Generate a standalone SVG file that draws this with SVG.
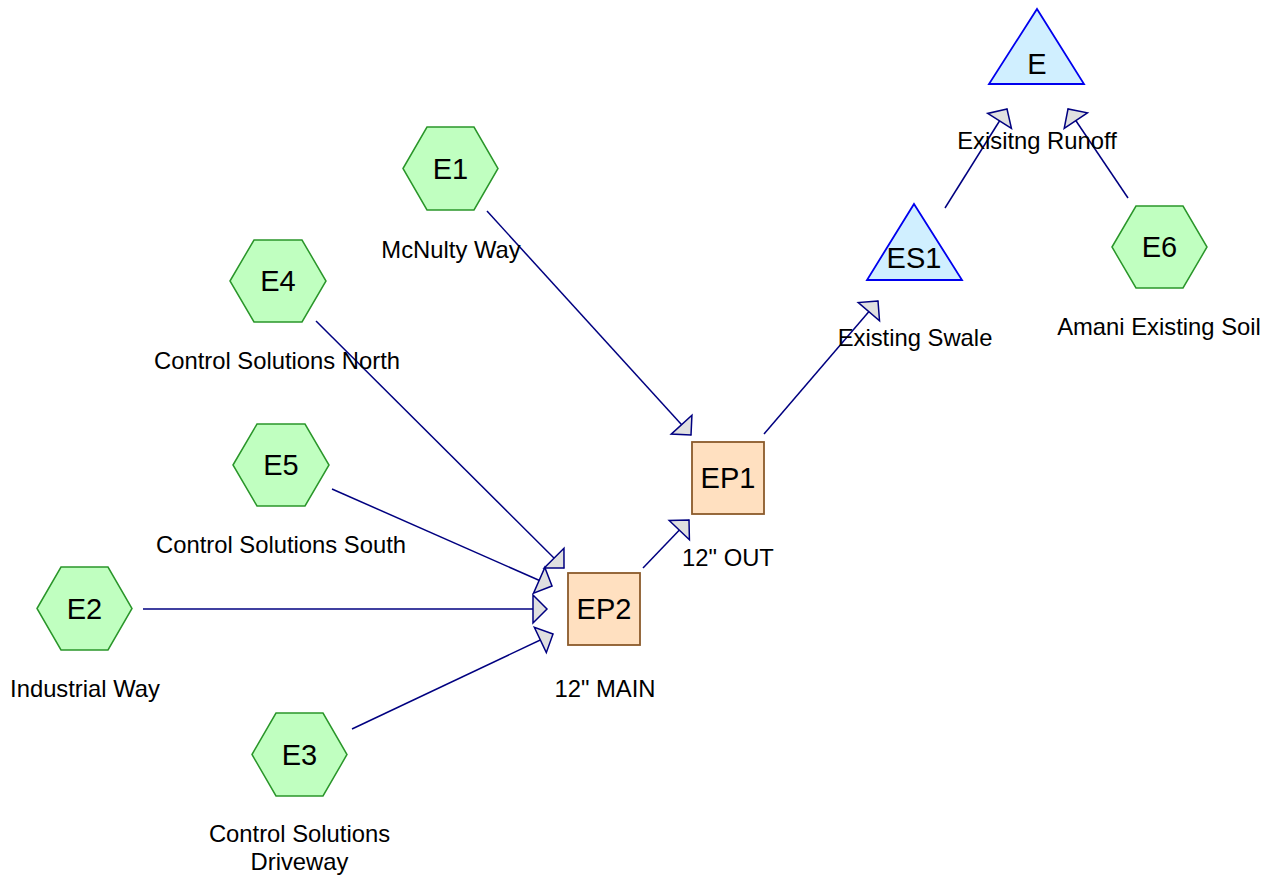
<svg xmlns="http://www.w3.org/2000/svg" width="1267" height="877" viewBox="0 0 1267 877">
  <defs>
    <style>
      .sub { fill: #c0ffc0; stroke: #2a962a; stroke-width: 1.5; }
      .pond { fill: #ffe0c0; stroke: #8b5a2b; stroke-width: 1.8; }
      .reach { fill: #d0efff; stroke: #0000ee; stroke-width: 1.8; }
      .id { font-family: "Liberation Sans", Arial, sans-serif; font-size: 29px; fill: #000; text-anchor: middle; }
      .lbl { font-family: "Liberation Sans", Arial, sans-serif; font-size: 23.8px; fill: #000; text-anchor: middle; }
      .link { fill: none; stroke: #000080; stroke-width: 1.5; marker-end: url(#arrow); }
    </style>
    <marker id="arrow" markerUnits="userSpaceOnUse" viewBox="-16 -16 18 32" refX="0" refY="0" markerWidth="18" markerHeight="32" orient="auto" overflow="visible">
      <path d="M0,0 L-14,-14 L-14,14 Z" fill="#e0e0e0" stroke="#000080" stroke-width="1.5" stroke-linejoin="miter"/>
    </marker>
  </defs>
  <rect width="1267" height="877" fill="#ffffff"/>

  <!-- connectors -->
  <g id="connectors">
    <line class="link" x1="487" y1="211" x2="691" y2="435"/>
    <line class="link" x1="316" y1="321" x2="564" y2="568"/>
    <line class="link" x1="332" y1="489" x2="552" y2="586"/>
    <line class="link" x1="143" y1="609" x2="547" y2="609"/>
    <line class="link" x1="352" y1="729" x2="553" y2="634"/>
    <line class="link" x1="643" y1="568" x2="689" y2="520"/>
    <line class="link" x1="764" y1="434" x2="878" y2="301"/>
    <line class="link" x1="945" y1="208" x2="1007" y2="109"/>
    <line class="link" x1="1128" y1="198" x2="1068" y2="109"/>
  </g>

  <!-- subcatchments -->
  <g id="E1">
    <polygon class="sub" points="403,168.5 427,127 474,127 498,168.5 474,210 427,210"/>
    <text class="id" x="450.5" y="179">E1</text>
    <text class="lbl" x="451" y="258">McNulty Way</text>
  </g>
  <g id="E4">
    <polygon class="sub" points="230,281 254,240 302,240 326,281 302,322 254,322"/>
    <text class="id" x="278" y="291">E4</text>
    <text class="lbl" x="277" y="369">Control Solutions North</text>
  </g>
  <g id="E5">
    <polygon class="sub" points="233,465 257,424 305,424 329,465 305,506 257,506"/>
    <text class="id" x="281" y="475">E5</text>
    <text class="lbl" x="281" y="553">Control Solutions South</text>
  </g>
  <g id="E2">
    <polygon class="sub" points="37,608.5 61,567 108,567 132,608.5 108,650 61,650"/>
    <text class="id" x="84.5" y="619">E2</text>
    <text class="lbl" x="85" y="697">Industrial Way</text>
  </g>
  <g id="E3">
    <polygon class="sub" points="252,754.5 276,713 323,713 347,754.5 323,796 276,796"/>
    <text class="id" x="299.5" y="765">E3</text>
    <text class="lbl" x="299.5" y="842">Control Solutions</text>
    <text class="lbl" x="299.5" y="870">Driveway</text>
  </g>
  <g id="E6">
    <polygon class="sub" points="1112,247 1136,206 1183,206 1207,247 1183,288 1136,288"/>
    <text class="id" x="1159.5" y="257">E6</text>
    <text class="lbl" x="1159" y="335">Amani Existing Soil</text>
  </g>

  <!-- ponds -->
  <g id="EP1">
    <rect class="pond" x="692" y="442" width="72" height="72"/>
    <text class="id" x="728" y="488">EP1</text>
    <text class="lbl" x="728" y="566">12" OUT</text>
  </g>
  <g id="EP2">
    <rect class="pond" x="568" y="573" width="72" height="72"/>
    <text class="id" x="604" y="619">EP2</text>
    <text class="lbl" x="605" y="697">12" MAIN</text>
  </g>

  <!-- reaches -->
  <g id="ES1">
    <polygon class="reach" points="914,204 962,280 867,280"/>
    <text class="id" x="914" y="268">ES1</text>
    <text class="lbl" x="915" y="346">Existing Swale</text>
  </g>
  <g id="E">
    <polygon class="reach" points="1037,9 1084,84 989,84"/>
    <text class="id" x="1037" y="74">E</text>
    <text class="lbl" x="1037" y="149">Exisitng Runoff</text>
  </g>
</svg>
